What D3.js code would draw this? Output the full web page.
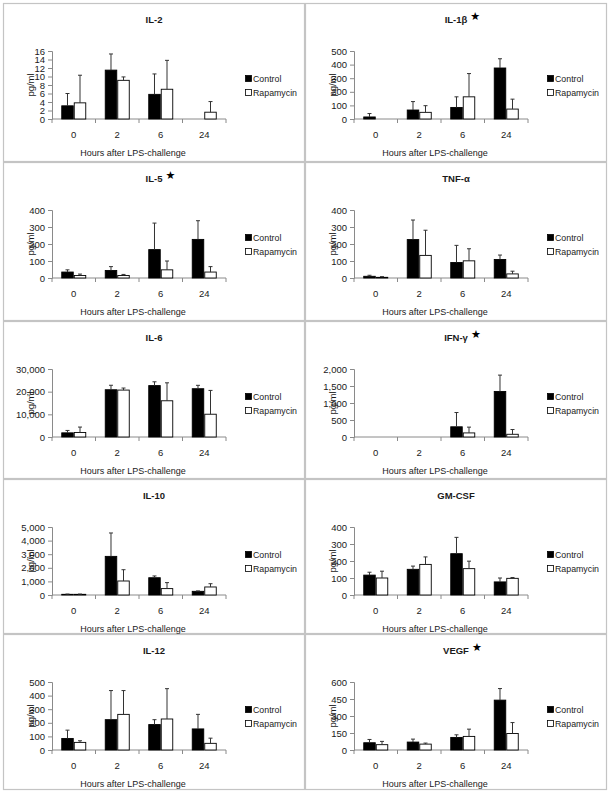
<!DOCTYPE html>
<html>
<head>
<meta charset="utf-8">
<script src="https://cdn.jsdelivr.net/npm/d3@7"></script>
<style>
  html, body { margin: 0; padding: 0; background: #fff; }
  svg { display: block; }
  text { font-family: "Liberation Sans", Arial, sans-serif; fill: #1a1a1a; }
</style>
</head>
<body>
<svg id="chart" width="611" height="795"></svg>
<script>
// ---------------- DATA ----------------
const cytokines = ["IL-2", "IL-1β", "IL-5", "TNF-α", "IL-6", "IFN-γ", "IL-10", "GM-CSF", "IL-12", "VEGF"];
const significant = [false, true, true, false, false, true, false, false, false, true];
const hours = ["0", "2", "6", "24"];
const seriesNames = ["Control", "Rapamycin"];

const controlMean = [
  [3.1, 11.5, 5.8, 0],
  [15, 66, 85, 375],
  [35, 44, 167, 227],
  [10, 226, 91, 109],
  [1830, 20850, 22680, 21300],
  [0, 0, 300, 1340],
  [50, 2840, 1270, 270],
  [117, 151, 243, 77],
  [85, 223, 187, 155],
  [64, 70, 111, 440]
];
const controlErr = [
  [2.9, 3.8, 4.8, 0],
  [25, 62, 78, 68],
  [13, 23, 156, 110],
  [6, 115, 101, 26],
  [1060, 1980, 1670, 1500],
  [0, 0, 420, 480],
  [20, 1720, 130, 30],
  [17, 19, 96, 23],
  [61, 214, 36, 107],
  [29, 26, 23, 102]
];
const rapamycinMean = [
  [3.8, 9.1, 7.0, 1.6],
  [0, 49, 163, 73],
  [15, 15, 48, 35],
  [4, 133, 101, 24],
  [1980, 20700, 15980, 10050],
  [0, 0, 120, 80],
  [50, 1030, 470, 590],
  [100, 180, 155, 98],
  [56, 262, 228, 49],
  [47, 52, 120, 146]
];
const rapamycinErr = [
  [6.5, 0.8, 6.8, 2.5],
  [0, 49, 171, 73],
  [8, 6, 52, 32],
  [4, 148, 71, 16],
  [2400, 900, 7920, 10500],
  [0, 0, 170, 140],
  [20, 830, 440, 240],
  [40, 44, 44, 5],
  [12, 175, 223, 38],
  [29, 9, 64, 96]
];
const yTicks = [
  [0, 2, 4, 6, 8, 10, 12, 14, 16],
  [0, 100, 200, 300, 400, 500],
  [0, 100, 200, 300, 400],
  [0, 100, 200, 300, 400],
  [0, 10000, 20000, 30000],
  [0, 500, 1000, 1500, 2000],
  [0, 1000, 2000, 3000, 4000, 5000],
  [0, 100, 200, 300, 400],
  [0, 100, 200, 300, 400, 500],
  [0, 150, 300, 450, 600]
];
const yLabel = "pg/ml";
const xLabel = "Hours after LPS-challenge";

// ---------------- LAYOUT ----------------
const colX = [3, 305];
const colW = 302;
const rowY = [3, 162, 321, 479, 634, 790];
const plotOffX = 49, plotW = 174;
const plotOffY = 48, plotH = 68;

const svg = d3.select("#chart");
const fmt = d3.format(",");

cytokines.forEach((name, i) => {
  const col = i % 2, row = Math.floor(i / 2);
  const px = colX[col], py = rowY[row];
  const ph = rowY[row + 1] - rowY[row];

  const g = svg.append("g");
  g.append("rect")
    .attr("x", px + 0.5).attr("y", py + 0.5)
    .attr("width", colW - 1).attr("height", ph - 1)
    .attr("fill", "#fff").attr("stroke", "#c4c4c4").attr("stroke-width", 1.2);

  // title
  const title = g.append("text")
    .attr("x", px + colW / 2).attr("y", py + 20)
    .attr("text-anchor", "middle")
    .attr("font-size", 9.5).attr("font-weight", "bold")
    .text(name);
  if (significant[i]) {
    const w = title.node().getComputedTextLength();
    g.append("text")
      .attr("x", px + colW / 2 + w / 2 + 3).attr("y", py + 17)
      .attr("font-size", 11)
      .style("font-family", "DejaVu Sans, sans-serif")
      .style("fill", "#000")
      .text("★");
  }

  const x0 = px + plotOffX, y0 = py + plotOffY;
  const ticks = yTicks[i];
  const y = d3.scaleLinear().domain([0, ticks[ticks.length - 1]]).range([y0 + plotH, y0]);
  const x = d3.scaleBand().domain(hours).range([x0, x0 + plotW]).paddingInner(0.425).paddingOuter(0.2125);
  const xs = d3.scaleBand().domain(seriesNames).range([0, x.bandwidth()]);

  // y axis
  const yAxis = g.append("g").attr("transform", `translate(${x0},0)`)
    .call(d3.axisLeft(y).tickValues(ticks).tickFormat(fmt).tickSize(4).tickPadding(3));
  yAxis.selectAll("path, line").attr("stroke", "#8a8a8a");
  yAxis.selectAll("text").attr("font-size", 9.5).attr("fill", "#1a1a1a")
    .style("font-family", "Liberation Sans, Arial, sans-serif");

  // x axis line with ticks at band boundaries
  const step = x.step();
  const xAxis = g.append("g");
  xAxis.append("line")
    .attr("x1", x0).attr("x2", x0 + plotW)
    .attr("y1", y(0)).attr("y2", y(0))
    .attr("stroke", "#8a8a8a");
  d3.range(hours.length + 1).forEach(k => {
    xAxis.append("line")
      .attr("x1", x0 + k * step).attr("x2", x0 + k * step)
      .attr("y1", y(0)).attr("y2", y(0) + 4)
      .attr("stroke", "#8a8a8a");
  });
  hours.forEach(h => {
    xAxis.append("text")
      .attr("x", x(h) + x.bandwidth() / 2).attr("y", y(0) + 19)
      .attr("text-anchor", "middle").attr("font-size", 9.5)
      .text(h);
  });

  // axis titles
  g.append("text")
    .attr("x", x0 + plotW / 2 - 6).attr("y", y(0) + 37)
    .attr("text-anchor", "middle").attr("font-size", 9)
    .text(xLabel);
  g.append("text")
    .attr("transform", `translate(${px + 31},${y0 + plotH / 2}) rotate(-90)`)
    .attr("text-anchor", "middle").attr("font-size", 9.5)
    .text(yLabel);

  // bars
  const means = [controlMean[i], rapamycinMean[i]];
  const errs = [controlErr[i], rapamycinErr[i]];
  const fills = ["#000", "#fff"];
  seriesNames.forEach((s, si) => {
    hours.forEach((h, hi) => {
      const v = means[si][hi], e = errs[si][hi];
      const bx = x(h) + xs(s);
      const bw = xs.bandwidth();
      if (v > 0) {
        g.append("rect")
          .attr("x", bx + 0.5).attr("y", y(v))
          .attr("width", bw - 1).attr("height", y(0) - y(v))
          .attr("fill", fills[si]).attr("stroke", "#000").attr("stroke-width", 0.9);
      }
      if (e > 0) {
        const cx = bx + bw / 2;
        g.append("line")
          .attr("x1", cx).attr("x2", cx)
          .attr("y1", y(v)).attr("y2", y(v + e))
          .attr("stroke", "#333").attr("stroke-width", 1);
        g.append("line")
          .attr("x1", cx - 2).attr("x2", cx + 2)
          .attr("y1", y(v + e)).attr("y2", y(v + e))
          .attr("stroke", "#333").attr("stroke-width", 1);
      }
    });
  });

  // legend
  const lx = px + 242, ly = y0 + 28;
  seriesNames.forEach((s, si) => {
    g.append("rect")
      .attr("x", lx + 0.5).attr("y", ly + si * 14 - 3.5)
      .attr("width", 6).attr("height", 6)
      .attr("fill", fills[si]).attr("stroke", "#000").attr("stroke-width", 0.8);
    g.append("text")
      .attr("x", lx + 8).attr("y", ly + si * 14 + 3)
      .attr("font-size", 8.8)
      .text(s);
  });
});
</script>
</body>
</html>
